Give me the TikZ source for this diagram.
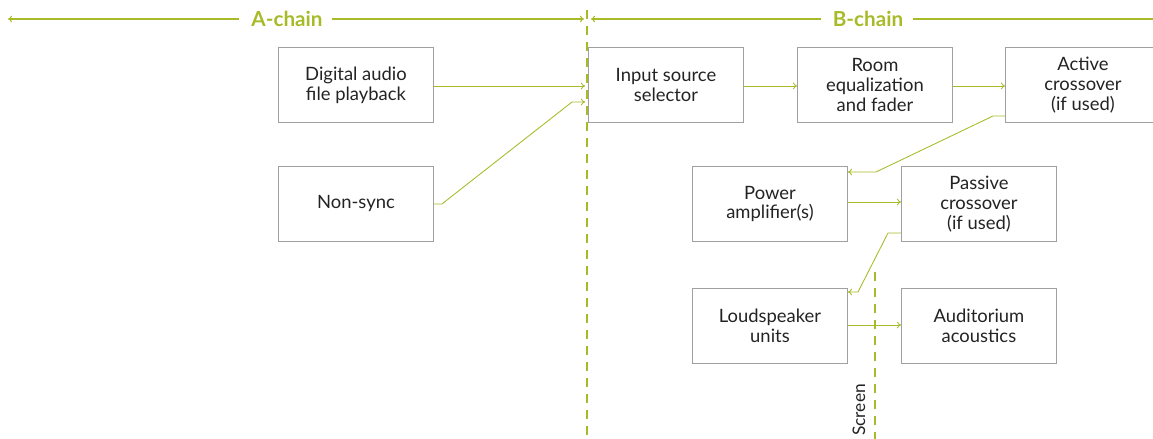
\documentclass[tikz,border=0pt]{standalone}
\usepackage{fontspec}
\setmainfont{Lato}
\usetikzlibrary{arrows.meta}
\definecolor{chain}{RGB}{168,186,40}
\definecolor{boxline}{RGB}{160,160,160}
\definecolor{labeltext}{RGB}{35,35,35}
\begin{document}
\begin{tikzpicture}[x=0.75pt,y=-0.75pt,
  blockbox/.style={draw=boxline,line width=0.7pt,minimum width=155*0.75pt,minimum height=75*0.75pt,
    align=center,text=labeltext,font=\fontsize{13.8}{14.8}\selectfont,inner sep=0pt,anchor=north west},
  link/.style={draw=chain,line width=0.65pt,-{To[length=3pt,width=5pt]}},
  chainline/.style={draw=chain,line width=0.8pt},
  chainlabel/.style={text=chain,font=\fontsize{15.5}{17}\selectfont\bfseries,inner sep=0pt},
  divider/.style={draw=chain,line width=0.9pt,dash pattern=on 7pt off 5pt}]
\useasboundingbox (0,0) rectangle (1153,439);
\begin{scope}
\clip (0,0) rectangle (1153,439);
% signal blocks
\node[blockbox] (dig) at (278,47) {Digital audio\\file playback};
\node[blockbox] (nsync) at (278,166) {Non-sync};
\node[blockbox] (input) at (588,47) {Input source\\selector};
\node[blockbox] (room) at (797,47) {Room\\equalization\\and fader};
\node[blockbox] (active) at (1005,47) {Active\\crossover\\(if used)};
\node[blockbox] (power) at (692,166) {Power\\amplifier(s)};
\node[blockbox] (passive) at (901,166) {Passive\\crossover\\(if used)};
\node[blockbox] (speaker) at (692,288) {Loudspeaker\\units};
\node[blockbox] (audit) at (901,288) {Auditorium\\acoustics};

% chain boundary and screen position
\coordinate (divtop) at (587,10);
\coordinate (divbot) at (587,439);
\draw[divider] (divtop) -- (divbot);
\coordinate (scrtop) at (875,272);
\coordinate (scrbot) at (875,439);
\draw[divider] (scrtop) -- (scrbot);
\node[rotate=90,anchor=west,text=labeltext,font=\fontsize{13}{15}\selectfont,inner sep=0pt] (screen) at (859,436) {Screen};

% chain headers
\node[chainlabel] (alabel) at (287,19) {A-chain};
\node[chainlabel] (blabel) at (868,19) {B-chain};
\coordinate (aleft) at (8,19);
\coordinate (aright) at (584,19);
\coordinate (bleft) at (591,19);
\coordinate (bright) at (1160,19);
\draw[chainline,-{To[length=3pt,width=5pt]}] ([xshift=-9pt]alabel.west) -- (aleft);
\draw[chainline,-{To[length=3pt,width=5pt]}] ([xshift=7pt]alabel.east) -- (aright);
\draw[chainline,-{To[length=3pt,width=5pt]}] ([xshift=-9pt]blabel.west) -- (bleft);
\draw[chainline] ([xshift=7pt]blabel.east) -- (bright);

% signal flow
\coordinate (inA) at (585,86);
\coordinate (inB) at (585,102);
\draw[link] (dig.east |- inA) -- (inA);
\draw[link] (nsync.east) -- ++(8,0) -- (572,102) -- (inB);
\draw[link] (input.east |- 0,86) -- (room.west |- 0,86);
\draw[link] (room.east |- 0,86) -- (active.west |- 0,86);
\draw[link] (active.west |- 0,116) -- (993,116) -- (876,172) -- (power.east |- 0,172);
\draw[link] (power.east |- 0,202) -- (passive.west |- 0,202);
\draw[link] (passive.west |- 0,233) -- (888,233) -- (858,292) -- (speaker.east |- 0,292);
\draw[link] (speaker.east |- 0,325) -- (audit.west |- 0,325);
\end{scope}
\end{tikzpicture}
\end{document}
